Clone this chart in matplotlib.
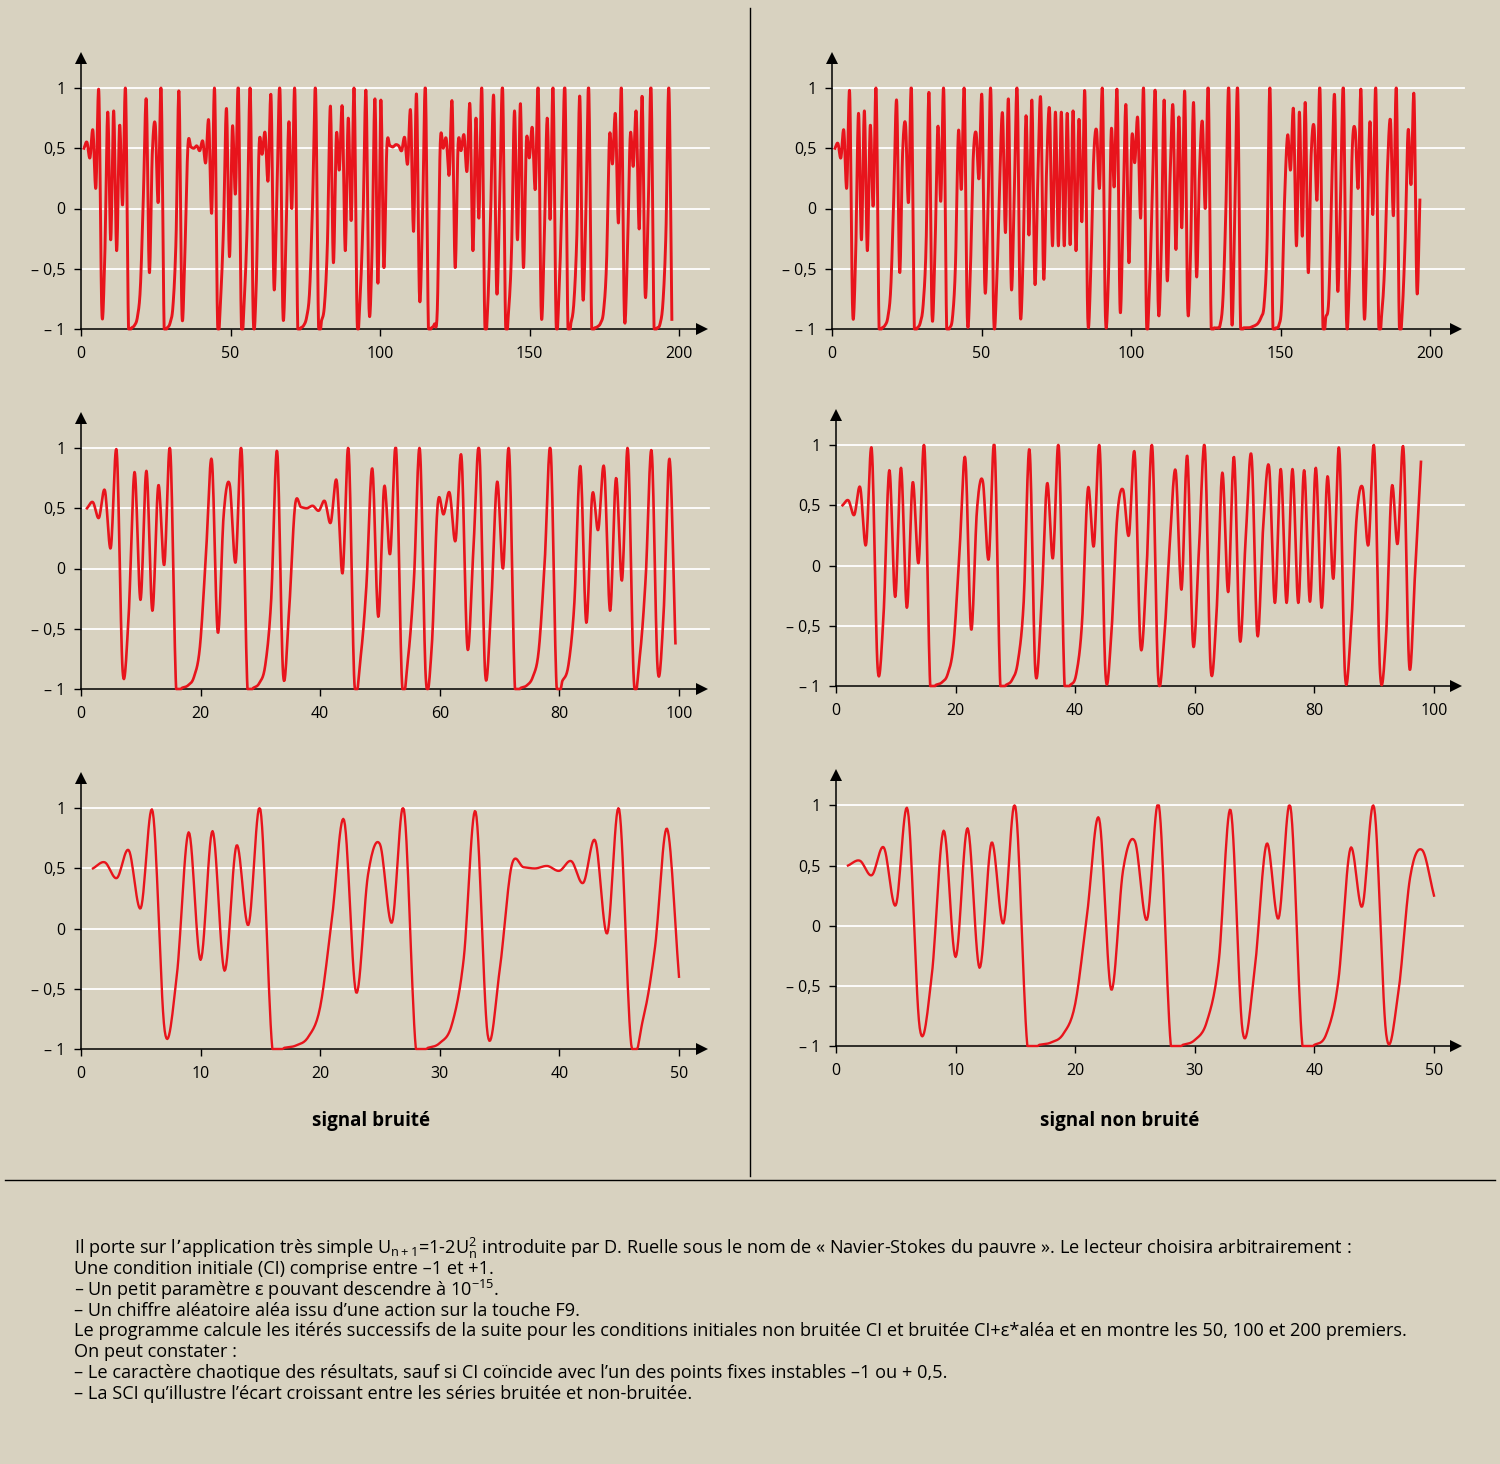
import numpy as np
import matplotlib
matplotlib.use("Agg")
import matplotlib.pyplot as plt
from matplotlib.lines import Line2D

# ---------------- data ----------------
noisy_1_50 = [0.50, 0.55, 0.42, 0.65, 0.17, 0.97, -0.85, -0.40, 0.80, -0.26,
              0.81, -0.35, 0.69, 0.03, 0.99, -1.00, -0.99, -0.97, -0.90, -0.65,
              0.10, 0.90, -0.53, 0.45, 0.70, 0.05, 0.99, -1.00, -0.99, -0.95,
              -0.80, -0.25, 0.97, -0.88, -0.35, 0.52, 0.51, 0.50, 0.52, 0.48,
              0.56, 0.38, 0.73, -0.04, 0.99, -0.96, -0.75, -0.15, 0.83, -0.40]
noisy_51_100 = [0.68, 0.12, 1.00, -0.95, -0.75, -0.10, 0.99, -0.91, -0.65, 0.53,
                0.45, 0.63, 0.23, 0.93, -0.66, 0.15, 0.99, -0.88, -0.30, 0.72,
                0.00, 0.99, -1.00, -0.99, -0.97, -0.90, -0.68, 0.05, 0.99, -0.98,
                -0.93, -0.80, -0.28, 0.85, -0.45, 0.61, 0.32, 0.84, -0.35, 0.75,
                -0.10, 0.99, -0.93, -0.73, -0.07, 0.97, -0.83, -0.38, 0.91, -0.62]
noisy_101_199 = [0.90, -0.49, 0.51, 0.52, 0.51, 0.53, 0.52, 0.48, 0.59, 0.37,
                 0.81, -0.19, 0.95, -0.74, -0.10, 1.00, -0.99, -0.99, -0.96, -0.84,
                 0.54, 0.50, 0.58, 0.28, 0.88, -0.49, 0.53, 0.48, 0.61, 0.31,
                 0.86, -0.35, 0.75, -0.08, 1.00, -0.96, -0.80, 0.00, 0.93, -0.69,
                 0.05, 1.00, -0.97, -0.85, -0.35, 0.81, -0.26, 0.87, -0.49, 0.56,
                 0.42, 0.67, 0.16, 1.00, -0.87, -0.30, 0.75, -0.09, 1.00, -0.94,
                 -0.70, 0.10, 1.00, -0.99, -0.95, -0.78, -0.22, 0.93, -0.73, -0.07,
                 1.00, -0.99, -0.99, -0.98, -0.95, -0.85, -0.45, 0.60, 0.37, 0.78,
                 -0.12, 1.00, -0.89, -0.40, 0.61, 0.35, 0.80, -0.17, 0.93, -0.71,
                 -0.05, 1.00, -0.99, -0.99, -0.96, -0.78, -0.20, 1.00, -0.92]

clean_1_50 = [0.50, 0.54, 0.42, 0.65, 0.17, 0.96, -0.85, -0.42, 0.79, -0.26,
              0.81, -0.35, 0.69, 0.02, 0.99, -1.00, -0.99, -0.97, -0.90, -0.65,
              0.10, 0.89, -0.53, 0.46, 0.70, 0.05, 1.00, -1.00, -0.99, -0.95,
              -0.80, -0.30, 0.96, -0.88, -0.37, 0.68, 0.06, 0.99, -1.00, -0.99,
              -0.90, -0.46, 0.64, 0.16, 0.98, -0.90, -0.57, 0.40, 0.63, 0.25]
clean_51_100 = [0.93, -0.67, -0.07, 0.99, -0.91, -0.64, 0.18, 0.79, -0.20, 0.91,
                -0.66, 0.13, 0.98, -0.85, -0.40, 0.77, -0.22, 0.90, -0.62, 0.23,
                0.91, -0.58, 0.33, 0.82, -0.31, 0.80, -0.31, 0.80, -0.31, 0.79,
                -0.30, 0.81, -0.35, 0.74, -0.11, 0.97, -0.91, -0.54, 0.41, 0.65,
                0.17, 0.98, -0.89, -0.60, 0.65, 0.18, 0.97, -0.84, -0.05, 0.86]
clean_101_200 = [-0.45, 0.59, 0.38, 0.75, -0.08, 1.00, -0.95, -0.65, 0.15, 0.96,
                 -0.83, -0.35, 0.90, -0.59, 0.25, 0.85, -0.34, 0.76, -0.16, 0.97,
                 -0.83, -0.35, 0.88, -0.56, 0.30, 0.72, 0.00, 1.00, -0.99, -0.99,
                 -0.99, -0.97, -0.75, 0.00, 1.00, -0.94, -0.10, 1.00, -0.99, -0.99,
                 -0.99, -0.99, -0.98, -0.97, -0.95, -0.90, -0.80, -0.30, 1.00, -0.99,
                 -0.99, -0.97, -0.78, 0.10, 0.61, 0.32, 0.82, -0.31, 0.80, -0.23,
                 0.88, -0.53, 0.44, 0.68, 0.07, 1.00, -0.97, -0.90, -0.75, 0.15,
                 0.93, -0.67, 0.10, 1.00, -0.91, -0.60, 0.50, 0.65, 0.17, 0.97,
                 -0.87, -0.30, 0.72, -0.05, 1.00, -0.97, -0.88, -0.48, 0.35, 0.73,
                 -0.06, 1.00, -0.97, -0.85, -0.25, 0.65, 0.20, 0.94, -0.69, 0.07]

y_ticks = [-1, -0.5, 0, 0.5, 1]
y_tick_labels = ["\u2013 1", "\u2013 0,5", "0", "0,5", "1"]
x_ticks_200 = [0, 50, 100, 150, 200]
x_ticks_100 = [0, 20, 40, 60, 80, 100]
x_ticks_50 = [0, 10, 20, 30, 40, 50]

label_left = "signal bruité"
label_right = "signal non bruité"

text_lines = [
    "Il porte sur l\u2019application très simple U$_{n+1}$=1-2U$_{n}^{2}$ introduite par D. Ruelle sous le nom de \u00ab\u00a0Navier-Stokes du pauvre\u00a0\u00bb. Le lecteur choisira arbitrairement :",
    "Une condition initiale (CI) comprise entre \u20131 et +1.",
    "\u2013 Un petit paramètre \u03b5 pouvant descendre à 10$^{-15}$.",
    "\u2013 Un chiffre aléatoire aléa issu d\u2019une action sur la touche F9.",
    "Le programme calcule les itérés successifs de la suite pour les conditions initiales non bruitée CI et bruitée CI+\u03b5*aléa et en montre les 50, 100 et 200 premiers.",
    "On peut constater :",
    "\u2013 Le caractère chaotique des résultats, sauf si CI coïncide avec l\u2019un des points fixes instables \u20131 ou + 0,5.",
    "\u2013 La SCI qu\u2019illustre l\u2019écart croissant entre les séries bruitée et non-bruitée.",
]

# ---------------- style ----------------
BG = "#d8d2c0"
RED = "#e8141c"
FONT = "Open Sans"
plt.rcParams["font.family"] = [FONT, "DejaVu Sans"]
plt.rcParams["mathtext.default"] = "regular"

W, H = 1500, 1464
fig = plt.figure(figsize=(W / 100, H / 100), dpi=100, facecolor=BG)

noisy = np.array(noisy_1_50 + noisy_51_100 + noisy_101_199)
clean = np.array(clean_1_50 + clean_51_100 + clean_101_200)


def smooth(x, y, n=14):
    """Catmull-Rom rendering of a line through the points (drawing only)."""
    x = np.asarray(x, float)
    y = np.asarray(y, float)
    xp = np.concatenate([[2 * x[0] - x[1]], x, [2 * x[-1] - x[-2]]])
    yp = np.concatenate([[2 * y[0] - y[1]], y, [2 * y[-1] - y[-2]]])
    t = np.linspace(0, 1, n, endpoint=False)
    xs, ys = [], []
    for i in range(1, len(xp) - 2):
        p0, p1, p2, p3 = yp[i - 1:i + 3]
        yy = 0.5 * (2 * p1 + (p2 - p0) * t + (2 * p0 - 5 * p1 + 4 * p2 - p3) * t ** 2
                    + (-p0 + 3 * p1 - 3 * p2 + p3) * t ** 3)
        xx = xp[i] + (xp[i + 1] - xp[i]) * t
        xs.append(xx)
        ys.append(yy)
    xs.append([x[-1]])
    ys.append([y[-1]])
    return np.concatenate(xs), np.concatenate(ys)


def panel(values, x0, xunit, ym1, yunit, xmax, ytop, xticks, step=1.0,
          first=1.0, lw=1.9):
    left = x0 / W
    width = xmax * xunit / W
    bottom = 1 - ym1 / H
    height = (ytop + 1) * yunit / H
    ax = fig.add_axes([left, bottom, width, height])
    ax.patch.set_visible(False)
    ax.set_xlim(0, xmax)
    ax.set_ylim(-1, ytop)
    for s in ["top", "right"]:
        ax.spines[s].set_visible(False)
    for s in ["left", "bottom"]:
        ax.spines[s].set_linewidth(1.1)
        ax.spines[s].set_color("black")
    for v in [-0.5, 0, 0.5, 1]:
        ax.plot([0, xmax * 1.012], [v, v], color="white", lw=1.3, zorder=1,
                clip_on=False)
    ax.set_yticks(y_ticks)
    ax.set_yticklabels(y_tick_labels)
    ax.set_xticks(xticks)
    ax.set_xticklabels([str(t) for t in xticks])
    ax.tick_params(direction="out", length=5, width=1.0, colors="black",
                   labelsize=11.5)
    ax.tick_params(axis="x", pad=7)
    ax.tick_params(axis="y", pad=6)
    # iterate index (1..N) placed along the axis as in the original drawing
    xs = first + step * np.arange(len(values))
    sx, sy = smooth(xs, values)
    ax.plot(sx, np.clip(sy, -1.0, 1.0), color=RED, lw=lw, zorder=3,
            clip_on=False, solid_joinstyle="round")
    # axis arrow heads
    ax.plot([0], [1], transform=ax.transAxes, marker="^", ms=8.5, color="black",
            clip_on=False, zorder=5, markeredgewidth=0)
    ax.plot([1], [0], transform=ax.transAxes, marker=">", ms=8.5, color="black",
            clip_on=False, zorder=5, markeredgewidth=0)
    return ax


# top row (200 iterates)
panel(noisy, 81, 2.99, 329, 120.5, 207.7, 1.253, x_ticks_200, step=0.993, lw=2.1)
panel(clean, 832, 2.99, 329, 120.5, 208.7, 1.253, x_ticks_200, step=0.983, lw=2.1)
# middle row (100 iterates)
panel(noisy[:100], 81, 5.98, 689, 120.5, 103.8, 1.253, x_ticks_100, step=0.994)
panel(clean[:100], 836, 5.98, 686, 120.5, 103.7, 1.253, x_ticks_100,
      step=0.977, first=1.1)
# bottom row (50 iterates)
panel(noisy[:50], 81, 11.96, 1049, 120.4, 51.9, 1.253, x_ticks_50, lw=1.7)
panel(clean[:50], 836, 11.96, 1046, 120.3, 51.8, 1.253, x_ticks_50, lw=1.7)

fig.text(371 / W, 1 - 1121 / H, label_left, ha="center", va="center",
         fontsize=13.5, fontweight="bold")
fig.text(1120 / W, 1 - 1121 / H, label_right, ha="center", va="center",
         fontsize=13.5, fontweight="bold")

# separators
fig.add_artist(Line2D([750 / W, 750 / W], [1 - 8 / H, 1 - 1176 / H],
                      color="black", lw=1.0))
fig.add_artist(Line2D([5 / W, 1495 / W], [1 - 1180 / H, 1 - 1180 / H],
                      color="black", lw=1.0))

# explanatory text
y0 = 1248
for k, line in enumerate(text_lines):
    fig.text(74 / W, 1 - (y0 + k * 20.85) / H, line, ha="left", va="center",
             fontsize=13.08)

fig.savefig("out.png", dpi=100, facecolor=BG)
